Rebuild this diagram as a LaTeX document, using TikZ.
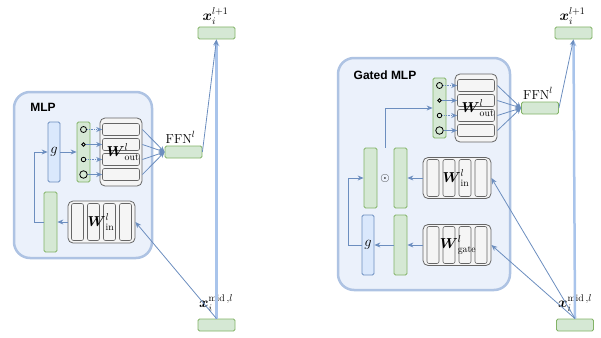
\documentclass[tikz,border=0pt]{standalone}
\usepackage{amsmath}
\usepackage{fontspec}
\newfontfamily\panelfont{Liberation Sans}
\usetikzlibrary{arrows.meta,positioning,calc}
\definecolor{panelfill}{HTML}{EBF1FB}
\definecolor{paneledge}{HTML}{AEC3E3}
\definecolor{vecfill}{HTML}{D5E8D4}
\definecolor{vecedge}{HTML}{82B366}
\definecolor{gfill}{HTML}{DAE8FC}
\definecolor{gedge}{HTML}{6C8EBF}
\definecolor{wfill}{HTML}{F5F5F5}
\definecolor{wedge}{HTML}{666666}
\definecolor{flow}{HTML}{6C8EBF}
\definecolor{resid}{HTML}{A9C4EB}

\begin{document}
\begin{tikzpicture}[x=1pt,y=-1pt,
  font=\fontsize{12}{14}\selectfont,
  panel/.style={draw=paneledge,fill=panelfill,line width=2.5pt,rounded corners=16pt,inner sep=0pt},
  title/.style={font=\panelfont\bfseries\fontsize{12}{14}\selectfont},
  mathlab/.style={font=\fontsize{14}{16}\selectfont,inner sep=1pt},
  ffnlab/.style={font=\fontsize{13}{15}\selectfont,inner sep=1pt},
  vec/.style={draw=vecedge,fill=vecfill,line width=0.8pt,rounded corners=1.5pt,inner sep=0pt,minimum width=13pt,minimum height=60pt},
  hvec/.style={vec,minimum width=37pt,minimum height=12pt},
  gbox/.style={vec,draw=gedge,fill=gfill,minimum width=12pt,font=\fontsize{14}{16}\selectfont},
  wbox/.style={draw=wedge,fill=wfill,line width=0.8pt,rounded corners=5pt,inner sep=0pt},
  row/.style={draw=wedge,fill=wfill,line width=0.6pt,rounded corners=2pt,inner sep=0pt,minimum width=37pt,minimum height=12pt},
  col/.style={row,minimum width=12pt,minimum height=37pt},
  dotc/.style={circle,draw=black,line width=0.8pt,inner sep=0pt},
  arr/.style={-{Stealth[length=6pt,width=5pt]},draw=flow,line width=0.8pt},
  dotarr/.style={arr,densely dotted},
  resarr/.style={-{Stealth[length=7pt,width=6pt]},draw=resid,line width=2.5pt}]
\useasboundingbox (0,0) rectangle (601,337);

% ---- MLP ----
\node[panel,minimum width=138pt,minimum height=166pt] (mlp) at (83,175) {};
\node[title] (mlptitle) at (43,107) {MLP};
\node[gbox] (lg) at (54,152) {$g$};
\node[vec] (ldots) at (83.5,152) {};
\node[wbox,minimum width=42pt,minimum height=68pt] (lwout) at (121,152) {};
\foreach \i/\y in {1/129.5,2/144.5,3/159.5,4/174.5}
  \node[row] (lrow\i) at (121,\y) {};
\node[mathlab] (lwoutlab) at (123,152) {$\boldsymbol{W}^{l}_{\mathrm{out}}$};
\node[dotc,minimum size=6pt] (ldot1) at (83.5,129.5) {};
\node[dotc,minimum size=3.5pt] (ldot2) at (83.5,144.5) {};
\node[dotc,minimum size=4.5pt] (ldot3) at (83.5,159.5) {};
\node[dotc,minimum size=7.5pt] (ldot4) at (83.5,174.5) {};
\node[hvec] (lffn) at (183.5,152) {};
\node[ffnlab,above=1pt of lffn,xshift=-3pt] (lffnlab) {$\mathrm{FFN}^{l}$};
\node[vec] (lh) at (50.5,222) {};
\node[wbox,minimum width=67pt,minimum height=42pt] (lwin) at (101.5,222) {};
\foreach \i/\x in {1/77.5,2/93.5,3/109.5,4/125.5}
  \node[col] (lcol\i) at (\x,222) {};
\node[mathlab] (lwinlab) at (101,222) {$\boldsymbol{W}^{l}_{\mathrm{in}}$};
\node[hvec] (lout) at (216.5,33) {};
\node[mathlab,above=1pt of lout,xshift=-1pt] (loutlab) {$\boldsymbol{x}_i^{l+1}$};
\node[hvec] (lmid) at (216.5,325) {};
\node[mathlab] (lmidlab) at (216,303) {$\boldsymbol{x}_i^{\mathrm{mid}\,,l}$};

\draw[arr] (lwin.west) -- (lh.east);
\draw[arr] (lh.west) -- ++(-9,0) |- (lg.west);
\draw[arr] (lg.east) -- (ldots.west);
\draw[dotarr] (ldot1.east) -- (lrow1.west);
\draw[arr] (ldot2.east) -- (lrow2.west);
\draw[dotarr] (ldot3.east) -- (lrow3.west);
\draw[arr] (ldot4.east) -- (lrow4.west);
\foreach \i in {1,...,4}
  \draw[arr] (lwout.east |- lrow\i) -- (lffn.west);
\draw[resarr] (lmid.north) -- (lout.south);
\draw[arr] (lmid.north) -- (lwin.east);
\draw[arr] (lffn.east) -- (lout.south);

% ---- Gated MLP ----
\node[panel,minimum width=172pt,minimum height=232pt] (gmlp) at (424,174) {};
\node[title] (gmlptitle) at (385,75) {Gated MLP};
\node[vec] (rdots) at (439.5,108) {};
\node[wbox,minimum width=42pt,minimum height=68pt] (rwout) at (476,108) {};
\foreach \i/\y in {1/85.5,2/100.5,3/115.5,4/130.5}
  \node[row] (rrow\i) at (476,\y) {};
\node[mathlab] (rwoutlab) at (478,108) {$\boldsymbol{W}^{l}_{\mathrm{out}}$};
\node[dotc,minimum size=6pt] (rdot1) at (439.5,85.5) {};
\node[dotc,minimum size=3.5pt] (rdot2) at (439.5,100.5) {};
\node[dotc,minimum size=4.5pt] (rdot3) at (439.5,115.5) {};
\node[dotc,minimum size=7.5pt] (rdot4) at (439.5,130.5) {};
\node[hvec] (rffn) at (540,108) {};
\node[ffnlab,above=1pt of rffn,xshift=-2pt] (rffnlab) {$\mathrm{FFN}^{l}$};
\node[vec] (rh1) at (370.5,178) {};
\node (rprod) at (385,178) {$\odot$};
\node[vec] (rh2) at (400.5,178) {};
\node[wbox,minimum width=68pt,minimum height=41pt] (rwin) at (457,178) {};
\foreach \i/\x in {1/433,2/449,3/465,4/481}
  \node[col] (rcol\i) at (\x,178) {};
\node[mathlab] (rwinlab) at (456,178) {$\boldsymbol{W}^{l}_{\mathrm{in}}$};
\node[gbox] (rg) at (368,245) {$g$};
\node[vec] (rh3) at (400.5,245) {};
\node[wbox,minimum width=68pt,minimum height=41pt] (rwgate) at (457,245) {};
\foreach \i/\x in {1/433,2/449,3/465,4/481}
  \node[col] (rgcol\i) at (\x,245) {};
\node[mathlab] (rwgatelab) at (458,245) {$\boldsymbol{W}^{l}_{\mathrm{gate}}$};
\node[hvec] (rout) at (573.5,33) {};
\node[mathlab,above=1pt of rout,xshift=-1pt] (routlab) {$\boldsymbol{x}_i^{l+1}$};
\node[hvec] (rmid) at (575,325) {};
\node[mathlab] (rmidlab) at (575,303) {$\boldsymbol{x}_i^{\mathrm{mid}\,,l}$};

\draw[arr] (rwin.west) -- (rh2.east);
\draw[arr] (rwgate.west) -- (rh3.east);
\draw[arr] (rh3.west) -- (rg.east);
\draw[arr] (rg.west) -- ++(-13,0) |- (rh1.west);
\draw[arr] ($(rh1.north)!0.5!(rh2.north)$) |- (rdots.west);
\draw[dotarr] (rdot1.east) -- (rrow1.west);
\draw[arr] (rdot2.east) -- (rrow2.west);
\draw[dotarr] (rdot3.east) -- (rrow3.west);
\draw[arr] (rdot4.east) -- (rrow4.west);
\foreach \i in {1,...,4}
  \draw[arr] (rwout.east |- rrow\i) -- (rffn.west);
\draw[resarr] (rmid.north) -- (rout.south);
\draw[arr] (rmid.north) -- (rwin.east);
\draw[arr] (rmid.north) -- (rwgate.east);
\draw[arr] (rffn.east) -- (rout.south);
\end{tikzpicture}
\end{document}
